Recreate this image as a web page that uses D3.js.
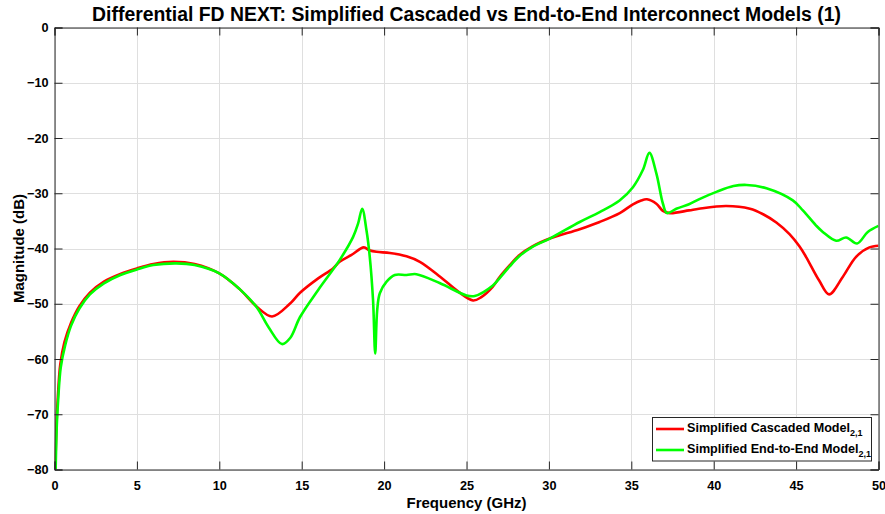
<!DOCTYPE html>
<html>
<head>
<meta charset="utf-8">
<script src="https://cdn.jsdelivr.net/npm/d3@7"></script>
<style>
  html, body { margin: 0; padding: 0; background: #fff; }
  svg { display: block; }
  text { font-family: "Liberation Sans", Arial, Helvetica, sans-serif; font-weight: bold; fill: #000; }
</style>
</head>
<body>
<svg id="chart" width="885" height="514"></svg>
<script>
// ---- data ----
const cascadedF = [0.05,0.12,0.2,0.35,0.6,1.0,1.5,2.15,3,4,5,6,7.2,8.5,10,11.25,12.26,13.2,14.28,14.9,16,16.9,17.3,18,18.77,19.1,19.54,20.35,21.36,22.17,23.4,24.5,25.4,25.9,26.6,27,27.6,28.2,29,30.05,31.87,33.08,34.3,35.1,35.6,35.95,36.52,36.92,37.33,38.5,39.1,40.76,42.2,43,43.8,44.6,45.2,45.6,46.4,47.0,47.84,48.64,49.45,50];
const cascadedDb = [-80,-72,-67,-61,-57,-53.5,-50.5,-48,-46,-44.6,-43.6,-42.8,-42.4,-42.8,-44.5,-47.4,-50.5,-52.3,-50,-48,-45.4,-43.6,-42.4,-41.2,-39.8,-40.3,-40.6,-40.8,-41.4,-42.4,-45.1,-47.8,-49.4,-48.8,-46.9,-45.2,-43.1,-41.2,-39.6,-38.2,-36.5,-35.2,-33.6,-32.0,-31.3,-31.1,-31.9,-33.2,-33.6,-33.1,-32.8,-32.3,-32.8,-33.8,-35.3,-37.4,-39.6,-41.5,-45.8,-48.3,-45.1,-41.5,-39.8,-39.5];

const endToEndF = [0.07,0.14,0.22,0.38,0.65,1.0,1.5,2.15,3,4,5,6,7.4,8.5,10,11.25,12.26,13,13.8,14.3,14.9,16,17.3,18.12,18.42,18.67,18.93,19.13,19.33,19.46,19.58,19.74,20.15,20.65,21.36,21.96,23.4,25,25.5,26.6,27,27.6,28.2,29,30.05,31.87,33.08,34.29,35.1,35.7,36.1,36.52,36.92,37.16,37.73,38.5,39.1,40.2,41.2,42,43.2,44.8,45.41,46.2,46.62,47.43,48.04,48.7,49.35,50];
const endToEndDb = [-80,-72,-67.5,-61.5,-57.5,-54,-50.9,-48.3,-46.3,-44.8,-43.8,-43.0,-42.7,-43,-44.5,-47.4,-50.6,-54.3,-57.3,-56.2,-52.4,-47.5,-42.1,-37.9,-35.5,-32.8,-36.7,-41.5,-49.4,-59,-51.2,-48.1,-46,-44.8,-44.8,-44.65,-46.3,-48.5,-48.6,-46.7,-45.4,-43.3,-41.4,-39.7,-38.2,-35.2,-33.4,-31.3,-28.9,-25.8,-22.7,-26.4,-31.9,-33.6,-32.8,-32,-31.1,-29.7,-28.7,-28.5,-29.1,-31.3,-33.1,-35.8,-37,-38.6,-38,-39.1,-37,-35.9];

const xTicks = [0,5,10,15,20,25,30,35,40,45,50];
const yTicks = [0,-10,-20,-30,-40,-50,-60,-70,-80];
const titleText = "Differential FD NEXT: Simplified Cascaded vs End-to-End Interconnect Models (1)";
const xLabel = "Frequency (GHz)";
const yLabel = "Magnitude (dB)";
const seriesNames = ["Simplified Cascaded Model", "Simplified End-to-End Model"];
const seriesSub = "2,1";
const seriesColors = ["#ff0000", "#00ff00"];

// ---- layout ----
const svg = d3.select("#chart");
const L = 54.5, R = 878.5, T = 27.5, B = 469.5;
const x = d3.scaleLinear().domain([0, 50]).range([L, R]);
const y = d3.scaleLinear().domain([-80, 0]).range([B, T]);
const axisColor = "#262626";
const tickLen = 8;

// grid
const grid = svg.append("g");
grid.selectAll("line.gx").data(xTicks).join("line")
  .attr("x1", d => Math.round(x(d)) + 0.5).attr("x2", d => Math.round(x(d)) + 0.5)
  .attr("y1", T).attr("y2", B)
  .attr("stroke", "#dfdfdf").attr("stroke-width", 1);
grid.selectAll("line.gy").data(yTicks).join("line")
  .attr("y1", d => Math.round(y(d)) + 0.5).attr("y2", d => Math.round(y(d)) + 0.5)
  .attr("x1", L).attr("x2", R)
  .attr("stroke", "#dfdfdf").attr("stroke-width", 1);

// curves
const line = d3.line().x(d => x(d[0])).y(d => y(d[1])).curve(d3.curveCatmullRom.alpha(0.5));
const series = [
  d3.zip(cascadedF, cascadedDb),
  d3.zip(endToEndF, endToEndDb)
];
svg.append("clipPath").attr("id", "clip").append("rect")
  .attr("x", L).attr("y", T).attr("width", R - L).attr("height", B - T);
series.forEach((s, i) => {
  svg.append("path").datum(s)
    .attr("d", line)
    .attr("fill", "none")
    .attr("stroke", seriesColors[i])
    .attr("stroke-width", 2.6)
    .attr("stroke-linejoin", "round")
    .attr("clip-path", "url(#clip)");
});

// axes (MATLAB box style with inside ticks)
const xAxisB = d3.axisBottom(x).tickValues(xTicks).tickSize(-tickLen).tickPadding(11).tickFormat(d3.format("d"));
const xAxisT = d3.axisTop(x).tickValues(xTicks).tickSize(-tickLen).tickFormat("");
const yAxisL = d3.axisLeft(y).tickValues(yTicks).tickSize(-tickLen).tickPadding(6).tickFormat(d3.format("d"));
const yAxisR = d3.axisRight(y).tickValues(yTicks).tickSize(-tickLen).tickFormat("");

function styleAxis(g) {
  g.selectAll("path.domain").attr("stroke", axisColor).attr("stroke-width", 1);
  g.selectAll(".tick line").attr("stroke", axisColor).attr("stroke-width", 1);
  g.selectAll(".tick text").attr("fill", "#262626")
    .style("font-family", '"Liberation Sans", Arial, sans-serif')
    .style("font-weight", "bold").style("font-size", "12.7px");
}
svg.append("g").attr("transform", `translate(0,${B})`).call(xAxisB).call(styleAxis);
svg.append("g").attr("transform", `translate(0,${T})`).call(xAxisT).call(styleAxis);
svg.append("g").attr("transform", `translate(${L},0)`).call(yAxisL).call(styleAxis);
svg.append("g").attr("transform", `translate(${R},0)`).call(yAxisR).call(styleAxis);

// title and labels
svg.append("text").attr("x", (L + R) / 2).attr("y", 21)
  .attr("text-anchor", "middle").style("font-size", "19.4px").text(titleText);
svg.append("text").attr("x", (L + R) / 2).attr("y", 508)
  .attr("text-anchor", "middle").style("font-size", "15px").attr("fill", "#262626").text(xLabel);
svg.append("text").attr("transform", `translate(24,${(T + B) / 2}) rotate(-90)`)
  .attr("text-anchor", "middle").style("font-size", "15px").attr("fill", "#262626").text(yLabel);

// legend
const lg = svg.append("g");
lg.append("rect").attr("x", 652.5).attr("y", 417.5).attr("width", 219).attr("height", 43.5)
  .attr("fill", "#fff").attr("stroke", axisColor).attr("stroke-width", 1);
seriesNames.forEach((n, i) => {
  const yy = 429 + i * 21;
  lg.append("line").attr("x1", 656).attr("x2", 684).attr("y1", yy).attr("y2", yy)
    .attr("stroke", seriesColors[i]).attr("stroke-width", 2.6);
  const t = lg.append("text").attr("x", 687).attr("y", yy + 3).style("font-size", "12.6px");
  t.append("tspan").text(n);
  t.append("tspan").attr("dy", 4).style("font-size", "9px").text(seriesSub);
});
</script>
</body>
</html>
